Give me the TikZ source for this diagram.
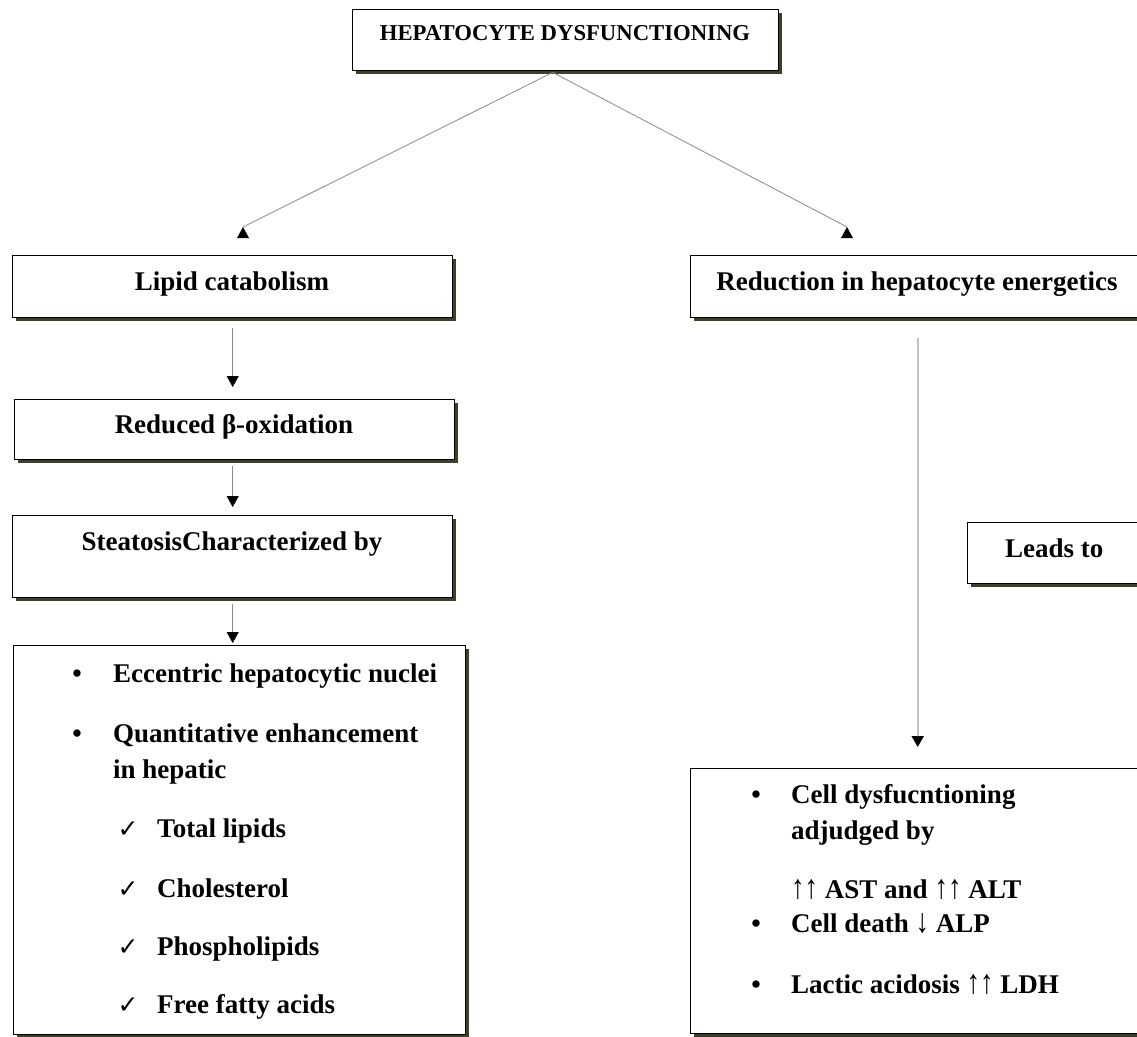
\documentclass[tikz,border=0pt]{standalone}
\usepackage{fontspec}
\setmainfont{Liberation Serif}
\newfontfamily\symfont{DejaVu Sans}
\usetikzlibrary{arrows.meta,shadows,calc}
\definecolor{shadowc}{HTML}{3B4227}
\definecolor{lineg}{HTML}{8A8A8A}
\definecolor{lineglight}{HTML}{C4C4C4}
\newcommand{\uarr}{\scalebox{1}[1.25]{↑}}
\newcommand{\darr}{\scalebox{1}[1.25]{↓}}
\tikzset{
  bx/.style={draw=black, line width=1.4pt, fill=white, inner sep=0pt, anchor=north west,
     drop shadow={shadow xshift=3pt, shadow yshift=-3pt, fill=shadowc, opacity=1}},
  txt/.style={font=\bfseries\fontsize{27}{32}\selectfont, inner sep=0pt, anchor=base},
  ltxt/.style={txt, anchor=base west},
  chk/.style={font=\symfont\fontsize{25}{28}\selectfont, inner sep=0pt, anchor=base},
  conn/.style={draw=lineg, line width=0.8pt},
  tipd/.style={-{Triangle[width=12pt,length=11pt,color=black]}},
}
\begin{document}
\begin{tikzpicture}[x=1pt,y=-1pt]
\useasboundingbox (0,0) rectangle (1137,1036);
\fill[white] (0,0) rectangle (1137,1036);
\clip (0,0) rectangle (1137,1036);

% boxes
\node[bx, minimum width=426pt, minimum height=61pt] (top) at (352,9) {};
\node[bx, minimum width=440pt, minimum height=62pt] (lipid) at (12,255) {};
\node[bx, minimum width=440pt, minimum height=60pt] (reduced) at (14,399) {};
\node[bx, minimum width=440pt, minimum height=82pt] (steat) at (12,515) {};
\node[bx, minimum width=452pt, minimum height=389pt] (list) at (13,645) {};
\node[bx, minimum width=454pt, minimum height=62pt] (energ) at (690,255) {};
\node[bx, minimum width=200pt, minimum height=61pt] (leads) at (967,522) {};
\node[bx, minimum width=454pt, minimum height=265pt] (rbox) at (690,768) {};

% box texts
\node[txt, font=\bfseries\fontsize{22.7}{27}\selectfont] (toptxt) at (565,40) {HEPATOCYTE DYSFUNCTIONING};
\node[txt] (lipidtxt) at (232,290) {Lipid catabolism};
\node[txt] (redtxt) at (234,433) {Reduced β-oxidation};
\node[txt] (steattxt) at (232,550) {SteatosisCharacterized by};
\node[txt] (energtxt) at (917,290) {Reduction in hepatocyte energetics};
\node[ltxt] (leadstxt) at (1005,557) {Leads to};

% left list
\node[txt] (b1) at (77,682) {•};
\node[ltxt] (l1) at (113,682) {Eccentric hepatocytic nuclei};
\node[txt] (b2) at (77,742) {•};
\node[ltxt] (l2) at (113,742) {Quantitative enhancement};
\node[ltxt] (l2b) at (113,778) {in hepatic};
\node[chk] (c1) at (128,837) {✓};
\node[ltxt] (l3) at (157,837) {Total lipids};
\node[chk] (c2) at (128,897) {✓};
\node[ltxt] (l4) at (157,897) {Cholesterol};
\node[chk] (c3) at (128,955) {✓};
\node[ltxt] (l5) at (157,955) {Phospholipids};
\node[chk] (c4) at (128,1013) {✓};
\node[ltxt] (l6) at (157,1013) {Free fatty acids};

% right list
\node[txt] (rb1) at (756,803) {•};
\node[ltxt] (r1) at (791,803) {Cell dysfucntioning};
\node[ltxt] (r1b) at (791,839) {adjudged by};
\node[ltxt] (r1c) at (791,898) {\uarr\uarr{} AST and \uarr\uarr{} ALT};
\node[txt] (rb2) at (756,932) {•};
\node[ltxt] (r2) at (791,932) {Cell death \darr{} ALP};
\node[txt] (rb3) at (756,993) {•};
\node[ltxt] (r3) at (791,993) {Lactic acidosis \uarr\uarr{} LDH};

% diagonal connectors
\coordinate (org) at ($(top.south)+(-13,1)$);
\coordinate (tl) at (243,227);
\coordinate (tr) at (847,227);
\draw[conn] (org) -- (tl);
\draw[conn] (org) -- (tr);
\fill[black] (tl) -- ++(-6,11) -- ++(12,0) -- cycle;
\fill[black] (tr) -- ++(-6,11) -- ++(12,0) -- cycle;

% vertical connectors
\draw[conn, tipd, shorten <=10pt, shorten >=12pt] (lipid.south) -- (lipid.south |- reduced.north);
\draw[conn, tipd, shorten <=6pt, shorten >=8pt] (lipid.south |- reduced.south) -- (lipid.south |- steat.north);
\draw[conn, tipd, shorten <=6pt, shorten >=2pt] (steat.south) -- (steat.south |- list.north);
\draw[draw=lineglight, line width=1.8pt, tipd, shorten <=20pt, shorten >=21pt] (energ.south) -- (rbox.north);
\end{tikzpicture}
\end{document}
